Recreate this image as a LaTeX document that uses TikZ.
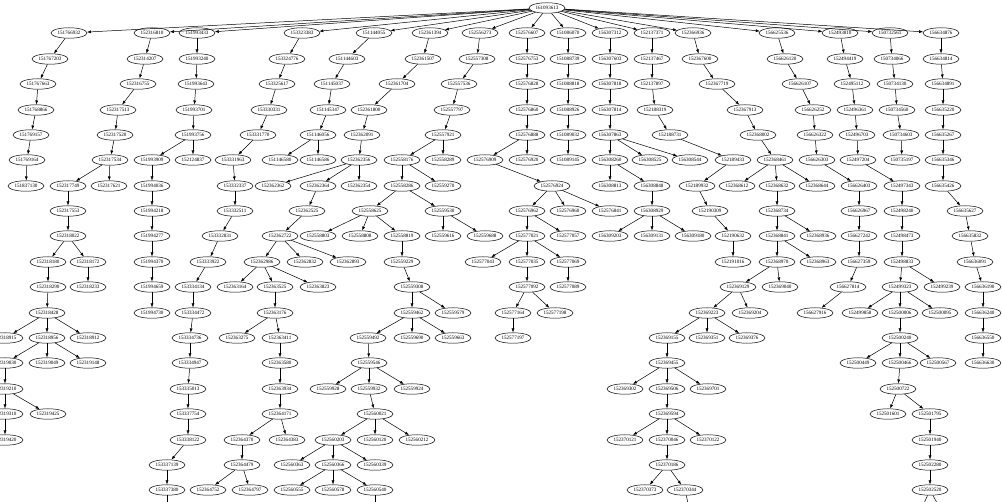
\documentclass[tikz,border=0pt]{standalone}
\usepackage{fontspec}
\setmainfont{Liberation Serif}
\usetikzlibrary{arrows.meta,shapes.geometric}

\begin{document}
\begin{tikzpicture}[x=1pt, y=-1pt, line width=0.5pt,
    >={Latex[length=4pt,width=3pt]},
    every node/.style={
    ellipse,
    draw,
    inner sep=0pt,
    minimum width=36pt,
    minimum height=10.5pt,
    font=\fontsize{5.1}{6}\selectfont
}]
    \useasboundingbox (0, 0) rectangle (1002, 502);
    \clip (0, 0) rectangle (1002, 502);

    \node (n_161093613) [shift={(547, 8)}] {161093613};

    % first row
    \node (n_151766932) [shift={(69, 33)}] {151766932};
    \node (n_152316810) [shift={(152, 33)}] {152316810};
    \node (n_151993433) [shift={(197, 33)}] {151993433};
    \node (n_153323383) [shift={(302, 33)}] {153323383};
    \node (n_151144055) [shift={(374, 33)}] {151144055};
    \node (n_152361394) [shift={(430, 33)}] {152361394};
    \node (n_152556273) [shift={(480, 33)}] {152556273};
    \node (n_152576607) [shift={(527, 33)}] {152576607};
    \node (n_151086070) [shift={(568, 33)}] {151086070};
    \node (n_156307312) [shift={(610, 33)}] {156307312};
    \node (n_152137371) [shift={(652, 33)}] {152137371};
    \node (n_152366936) [shift={(693, 33)}] {152366936};
    \node (n_156625536) [shift={(777, 33)}] {156625536};
    \node (n_152493810) [shift={(840, 33)}] {152493810};
    \node (n_150732561) [shift={(890, 33)}] {150732561};
    \node (n_156634876) [shift={(941, 33)}] {156634876};

    % 151766932
    \node (n_151767203) [shift={(50, 59)}] {151767203};
    \node (n_151767663) [shift={(38, 84)}] {151767663};
    \node (n_151768866) [shift={(36, 110)}] {151768866};
    \node (n_151769157) [shift={(31, 135)}] {151769157};
    \node (n_151769164) [shift={(27, 160)}] {151769164};
    \node (n_151837130) [shift={(26, 186)}] {151837130};

    % 152316810
    \node (n_152314207) [shift={(145, 59)}] {152314207};
    \node (n_152316755) [shift={(138, 84)}] {152316755};
    \node (n_152317513) [shift={(118, 110)}] {152317513};
    \node (n_152317520) [shift={(115, 135)}] {152317520};
    \node (n_152317534) [shift={(110, 160)}] {152317534};
    \node (n_152317749) [shift={(68, 186)}] {152317749};
    \node (n_152317621) [shift={(109, 186)}] {152317621};
    \node (n_152317553) [shift={(68, 211)}] {152317553};
    \node (n_152318022) [shift={(68, 236)}] {152318022};
    \node (n_152318180) [shift={(48, 262)}] {152318180};
    \node (n_152318172) [shift={(88, 262)}] {152318172};
    \node (n_152318290) [shift={(48, 287)}] {152318290};
    \node (n_152318233) [shift={(88, 287)}] {152318233};
    \node (n_152318428) [shift={(47, 313)}] {152318428};
    \node (n_152318915) [shift={(5, 338)}] {152318915};
    \node (n_152318956) [shift={(47, 338)}] {152318956};
    \node (n_152318912) [shift={(88, 338)}] {152318912};
    \node (n_152319030) [shift={(5, 363)}] {152319030};
    \node (n_152319049) [shift={(47, 363)}] {152319049};
    \node (n_152319148) [shift={(88, 363)}] {152319148};
    \node (n_152319210) [shift={(5, 389)}] {152319210};
    \node (n_152319310) [shift={(5, 414)}] {152319310};
    \node (n_152319425) [shift={(48, 414)}] {152319425};
    \node (n_152319420) [shift={(5, 440)}] {152319420};

    % 151993433
    \node (n_151993240) [shift={(197, 59)}] {151993240};
    \node (n_151993643) [shift={(196, 84)}] {151993643};
    \node (n_151993701) [shift={(194, 110)}] {151993701};
    \node (n_151993756) [shift={(193, 135)}] {151993756};
    \node (n_151993909) [shift={(152, 160)}] {151993909};
    \node (n_152124837) [shift={(193, 160)}] {152124837};
    \node (n_151994036) [shift={(152, 186)}] {151994036};
    \node (n_151994218) [shift={(152, 211)}] {151994218};
    \node (n_151994277) [shift={(152, 236)}] {151994277};
    \node (n_151994370) [shift={(152, 262)}] {151994370};
    \node (n_151994659) [shift={(152, 287)}] {151994659};
    \node (n_151994730) [shift={(152, 313)}] {151994730};

    % 153323383
    \node (n_153324776) [shift={(287, 59)}] {153324776};
    \node (n_153325617) [shift={(277, 84)}] {153325617};
    \node (n_153330331) [shift={(269, 110)}] {153330331};
    \node (n_153331770) [shift={(258, 135)}] {153331770};
    \node (n_153331963) [shift={(233, 160)}] {153331963};
    \node (n_153332337) [shift={(235, 186)}] {153332337};
    \node (n_153332511) [shift={(235, 211)}] {153332511};
    \node (n_153332831) [shift={(220, 236)}] {153332831};
    \node (n_153333922) [shift={(208, 262)}] {153333922};
    \node (n_153334134) [shift={(193, 287)}] {153334134};
    \node (n_153334472) [shift={(193, 313)}] {153334472};
    \node (n_153334736) [shift={(190, 338)}] {153334736};
    \node (n_153334947) [shift={(190, 363)}] {153334947};
    \node (n_153335013) [shift={(188, 389)}] {153335013};
    \node (n_153337754) [shift={(188, 414)}] {153337754};
    \node (n_153338122) [shift={(188, 440)}] {153338122};
    \node (n_153337139) [shift={(167, 465)}] {153337139};
    \node (n_153337380) [shift={(167, 490)}] {153337380};

    % 151144055
    \node (n_151144603) [shift={(347, 59)}] {151144603};
    \node (n_151145037) [shift={(332, 84)}] {151145037};
    \node (n_151145347) [shift={(328, 110)}] {151145347};
    \node (n_151146056) [shift={(318, 135)}] {151146056};
    \node (n_151146580) [shift={(280, 160)}] {151146580};
    \node (n_151146586) [shift={(318, 160)}] {151146586};

    % 152361394
    \node (n_152361507) [shift={(423, 59)}] {152361507};
    \node (n_152361704) [shift={(397, 84)}] {152361704};
    \node (n_152361800) [shift={(369, 110)}] {152361800};
    \node (n_152362091) [shift={(362, 135)}] {152362091};
    \node (n_152362356) [shift={(359, 160)}] {152362356};
    \node (n_152362362) [shift={(273, 186)}] {152362362};
    \node (n_152362364) [shift={(318, 186)}] {152362364};
    \node (n_152362354) [shift={(359, 186)}] {152362354};
    \node (n_152362525) [shift={(307, 211)}] {152362525};
    \node (n_152362722) [shift={(280, 236)}] {152362722};
    \node (n_152362986) [shift={(262, 262)}] {152362986};
    \node (n_152362832) [shift={(305, 262)}] {152362832};
    \node (n_152362893) [shift={(348, 262)}] {152362893};
    \node (n_152363164) [shift={(235, 287)}] {152363164};
    \node (n_152363525) [shift={(275, 287)}] {152363525};
    \node (n_152363823) [shift={(318, 287)}] {152363823};
    \node (n_152363176) [shift={(275, 313)}] {152363176};
    \node (n_152363275) [shift={(237, 338)}] {152363275};
    \node (n_152363411) [shift={(280, 338)}] {152363411};
    \node (n_152363580) [shift={(280, 363)}] {152363580};
    \node (n_152363934) [shift={(280, 389)}] {152363934};
    \node (n_152364171) [shift={(280, 414)}] {152364171};
    \node (n_152364370) [shift={(242, 440)}] {152364370};
    \node (n_152364383) [shift={(287, 440)}] {152364383};
    \node (n_152364479) [shift={(242, 465)}] {152364479};
    \node (n_152364752) [shift={(208, 490)}] {152364752};
    \node (n_152364797) [shift={(250, 490)}] {152364797};

    % 152556273
    \node (n_152557308) [shift={(477, 59)}] {152557308};
    \node (n_152557536) [shift={(459, 84)}] {152557536};
    \node (n_152557797) [shift={(452, 110)}] {152557797};
    \node (n_152557921) [shift={(443, 135)}] {152557921};
    \node (n_152558176) [shift={(402, 160)}] {152558176};
    \node (n_152558289) [shift={(443, 160)}] {152558289};
    \node (n_152558286) [shift={(402, 186)}] {152558286};
    \node (n_152559270) [shift={(443, 186)}] {152559270};
    \node (n_152558625) [shift={(370, 211)}] {152558625};
    \node (n_152559530) [shift={(443, 211)}] {152559530};
    \node (n_152558803) [shift={(318, 236)}] {152558803};
    \node (n_152558808) [shift={(360, 236)}] {152558808};
    \node (n_152558819) [shift={(402, 236)}] {152558819};
    \node (n_152559616) [shift={(443, 236)}] {152559616};
    \node (n_152559688) [shift={(485, 236)}] {152559688};
    \node (n_152559229) [shift={(402, 262)}] {152559229};
    \node (n_152559308) [shift={(412, 287)}] {152559308};
    \node (n_152559462) [shift={(412, 313)}] {152559462};
    \node (n_152559579) [shift={(453, 313)}] {152559579};
    \node (n_152559492) [shift={(368, 338)}] {152559492};
    \node (n_152559690) [shift={(412, 338)}] {152559690};
    \node (n_152559663) [shift={(453, 338)}] {152559663};
    \node (n_152559546) [shift={(369, 363)}] {152559546};
    \node (n_152559928) [shift={(328, 389)}] {152559928};
    \node (n_152559932) [shift={(369, 389)}] {152559932};
    \node (n_152559924) [shift={(412, 389)}] {152559924};
    \node (n_152560021) [shift={(375, 414)}] {152560021};
    \node (n_152560203) [shift={(333, 440)}] {152560203};
    \node (n_152560120) [shift={(375, 440)}] {152560120};
    \node (n_152560212) [shift={(417, 440)}] {152560212};
    \node (n_152560363) [shift={(292, 465)}] {152560363};
    \node (n_152560366) [shift={(333, 465)}] {152560366};
    \node (n_152560339) [shift={(375, 465)}] {152560339};
    \node (n_152560555) [shift={(292, 490)}] {152560555};
    \node (n_152560578) [shift={(333, 490)}] {152560578};
    \node (n_152560540) [shift={(375, 490)}] {152560540};

    % 152576607
    \node (n_152576753) [shift={(527, 59)}] {152576753};
    \node (n_152576828) [shift={(527, 84)}] {152576828};
    \node (n_152576860) [shift={(527, 110)}] {152576860};
    \node (n_152576888) [shift={(527, 135)}] {152576888};
    \node (n_152576909) [shift={(485, 160)}] {152576909};
    \node (n_152576920) [shift={(527, 160)}] {152576920};
    \node (n_152576924) [shift={(552, 186)}] {152576924};
    \node (n_152576962) [shift={(527, 211)}] {152576962};
    \node (n_152576960) [shift={(568, 211)}] {152576960};
    \node (n_152576841) [shift={(610, 211)}] {152576841};
    \node (n_152577021) [shift={(527, 236)}] {152577021};
    \node (n_152577057) [shift={(568, 236)}] {152577057};
    \node (n_152577043) [shift={(483, 262)}] {152577043};
    \node (n_152577035) [shift={(527, 262)}] {152577035};
    \node (n_152577069) [shift={(568, 262)}] {152577069};
    \node (n_152577092) [shift={(527, 287)}] {152577092};
    \node (n_152577089) [shift={(568, 287)}] {152577089};
    \node (n_152577164) [shift={(513, 313)}] {152577164};
    \node (n_152577198) [shift={(555, 313)}] {152577198};
    \node (n_152577197) [shift={(513, 338)}] {152577197};

    % 151086070
    \node (n_151088739) [shift={(568, 59)}] {151088739};
    \node (n_151088818) [shift={(568, 84)}] {151088818};
    \node (n_151088926) [shift={(568, 110)}] {151088926};
    \node (n_151089032) [shift={(568, 135)}] {151089032};
    \node (n_151089145) [shift={(568, 160)}] {151089145};

    % 156307312
    \node (n_156307603) [shift={(610, 59)}] {156307603};
    \node (n_156307818) [shift={(610, 84)}] {156307818};
    \node (n_156307814) [shift={(610, 110)}] {156307814};
    \node (n_156307863) [shift={(610, 135)}] {156307863};
    \node (n_156308260) [shift={(610, 160)}] {156308260};
    \node (n_156308525) [shift={(650, 160)}] {156308525};
    \node (n_156308544) [shift={(690, 160)}] {156308544};
    \node (n_156308813) [shift={(610, 186)}] {156308813};
    \node (n_156308848) [shift={(652, 186)}] {156308848};
    \node (n_156308929) [shift={(652, 211)}] {156308929};
    \node (n_156309203) [shift={(610, 236)}] {156309203};
    \node (n_156309131) [shift={(652, 236)}] {156309131};
    \node (n_156309180) [shift={(693, 236)}] {156309180};

    % 152137371
    \node (n_152137467) [shift={(652, 59)}] {152137467};
    \node (n_152137897) [shift={(652, 84)}] {152137897};
    \node (n_152188319) [shift={(655, 110)}] {152188319};
    \node (n_152188731) [shift={(670, 135)}] {152188731};
    \node (n_152189433) [shift={(733, 160)}] {152189433};
    \node (n_152189932) [shift={(697, 186)}] {152189932};
    \node (n_152190309) [shift={(710, 211)}] {152190309};
    \node (n_152190632) [shift={(733, 236)}] {152190632};
    \node (n_152191016) [shift={(733, 262)}] {152191016};

    % 152366936
    \node (n_152367600) [shift={(700, 59)}] {152367600};
    \node (n_152367719) [shift={(717, 84)}] {152367719};
    \node (n_152367913) [shift={(745, 110)}] {152367913};
    \node (n_152368002) [shift={(758, 135)}] {152368002};
    \node (n_152368461) [shift={(775, 160)}] {152368461};
    \node (n_152368612) [shift={(737, 186)}] {152368612};
    \node (n_152368632) [shift={(777, 186)}] {152368632};
    \node (n_152368644) [shift={(817, 186)}] {152368644};
    \node (n_152368734) [shift={(777, 211)}] {152368734};
    \node (n_152368841) [shift={(777, 236)}] {152368841};
    \node (n_152368936) [shift={(818, 236)}] {152368936};
    \node (n_152368970) [shift={(777, 262)}] {152368970};
    \node (n_152368963) [shift={(818, 262)}] {152368963};
    \node (n_152369129) [shift={(738, 287)}] {152369129};
    \node (n_152369040) [shift={(780, 287)}] {152369040};
    \node (n_152369223) [shift={(707, 313)}] {152369223};
    \node (n_152369204) [shift={(750, 313)}] {152369204};
    \node (n_152369155) [shift={(667, 338)}] {152369155};
    \node (n_152369351) [shift={(707, 338)}] {152369351};
    \node (n_152369376) [shift={(747, 338)}] {152369376};
    \node (n_152369455) [shift={(667, 363)}] {152369455};
    \node (n_152369302) [shift={(625, 389)}] {152369302};
    \node (n_152369506) [shift={(667, 389)}] {152369506};
    \node (n_152369701) [shift={(708, 389)}] {152369701};
    \node (n_152369594) [shift={(667, 414)}] {152369594};
    \node (n_152370121) [shift={(625, 440)}] {152370121};
    \node (n_152370046) [shift={(667, 440)}] {152370046};
    \node (n_152370122) [shift={(708, 440)}] {152370122};
    \node (n_152370186) [shift={(667, 465)}] {152370186};
    \node (n_152370373) [shift={(645, 490)}] {152370373};
    \node (n_152370344) [shift={(685, 490)}] {152370344};

    % 156625536
    \node (n_156626120) [shift={(785, 59)}] {156626120};
    \node (n_156626107) [shift={(800, 84)}] {156626107};
    \node (n_156626252) [shift={(813, 110)}] {156626252};
    \node (n_156626322) [shift={(815, 135)}] {156626322};
    \node (n_156626303) [shift={(817, 160)}] {156626303};
    \node (n_156626403) [shift={(859, 186)}] {156626403};
    \node (n_156626967) [shift={(859, 211)}] {156626967};
    \node (n_156627242) [shift={(859, 236)}] {156627242};
    \node (n_156627359) [shift={(859, 262)}] {156627359};
    \node (n_156627814) [shift={(848, 287)}] {156627814};
    \node (n_156627916) [shift={(815, 313)}] {156627916};

    % 152493810
    \node (n_152494419) [shift={(845, 59)}] {152494419};
    \node (n_152495112) [shift={(852, 84)}] {152495112};
    \node (n_152496361) [shift={(855, 110)}] {152496361};
    \node (n_152496703) [shift={(857, 135)}] {152496703};
    \node (n_152497204) [shift={(858, 160)}] {152497204};
    \node (n_152497343) [shift={(902, 186)}] {152497343};
    \node (n_152498240) [shift={(902, 211)}] {152498240};
    \node (n_152498473) [shift={(902, 236)}] {152498473};
    \node (n_152498833) [shift={(902, 262)}] {152498833};
    \node (n_152499323) [shift={(900, 287)}] {152499323};
    \node (n_152499239) [shift={(942, 287)}] {152499239};
    \node (n_152499858) [shift={(860, 313)}] {152499858};
    \node (n_152500006) [shift={(900, 313)}] {152500006};
    \node (n_152500095) [shift={(940, 313)}] {152500095};
    \node (n_152500240) [shift={(900, 338)}] {152500240};
    \node (n_152500449) [shift={(858, 363)}] {152500449};
    \node (n_152500466) [shift={(900, 363)}] {152500466};
    \node (n_152500567) [shift={(938, 363)}] {152500567};
    \node (n_152500722) [shift={(898, 389)}] {152500722};
    \node (n_152501601) [shift={(888, 414)}] {152501601};
    \node (n_152501795) [shift={(930, 414)}] {152501795};
    \node (n_152501940) [shift={(930, 440)}] {152501940};
    \node (n_152502280) [shift={(930, 465)}] {152502280};
    \node (n_152502520) [shift={(930, 490)}] {152502520};

    % 150732561
    \node (n_150734066) [shift={(892, 59)}] {150734066};
    \node (n_150734130) [shift={(895, 84)}] {150734130};
    \node (n_150734560) [shift={(897, 110)}] {150734560};
    \node (n_150734603) [shift={(901, 135)}] {150734603};
    \node (n_150735197) [shift={(902, 160)}] {150735197};

    % 156634876
    \node (n_156634814) [shift={(941, 59)}] {156634814};
    \node (n_156634891) [shift={(943, 84)}] {156634891};
    \node (n_156635220) [shift={(943, 110)}] {156635220};
    \node (n_156635267) [shift={(943, 135)}] {156635267};
    \node (n_156635346) [shift={(943, 160)}] {156635346};
    \node (n_156635426) [shift={(943, 186)}] {156635426};
    \node (n_156635627) [shift={(965, 211)}] {156635627};
    \node (n_156635832) [shift={(970, 236)}] {156635832};
    \node (n_156636091) [shift={(975, 262)}] {156636091};
    \node (n_156636190) [shift={(983, 287)}] {156636190};
    \node (n_156636240) [shift={(983, 313)}] {156636240};
    \node (n_156636550) [shift={(983, 338)}] {156636550};
    \node (n_156636630) [shift={(983, 363)}] {156636630};

    % children below the frame
    \coordinate (c_153337380) at (167, 512);
    \coordinate (c_152560540) at (375, 512);
    \coordinate (c_152370344) at (690, 512);
    \coordinate (c_152502520_l) at (920, 512);
    \coordinate (c_152502520_r) at (942, 512);


    \draw[->] (n_161093613) to (n_151766932);
    \draw[->] (n_161093613) to (n_152316810);
    \draw[->] (n_161093613) to (n_151993433);
    \draw[->] (n_161093613) to (n_153323383);
    \draw[->] (n_161093613) to (n_151144055);
    \draw[->] (n_161093613) to (n_152361394);
    \draw[->] (n_161093613) to (n_152556273);
    \draw[->] (n_161093613) to (n_152576607);
    \draw[->] (n_161093613) to (n_151086070);
    \draw[->] (n_161093613) to (n_156307312);
    \draw[->] (n_161093613) to (n_152137371);
    \draw[->] (n_161093613) to (n_152366936);
    \draw[->] (n_161093613) to (n_156625536);
    \draw[->] (n_161093613) to (n_152493810);
    \draw[->] (n_161093613) to (n_150732561);
    \draw[->] (n_161093613) to (n_156634876);

    \draw[->] (n_151766932) to (n_151767203);
    \draw[->] (n_151767203) to (n_151767663);
    \draw[->] (n_151767663) to (n_151768866);
    \draw[->] (n_151768866) to (n_151769157);
    \draw[->] (n_151769157) to (n_151769164);
    \draw[->] (n_151769164) to (n_151837130);

    \draw[->] (n_152316810) to (n_152314207);
    \draw[->] (n_152314207) to (n_152316755);
    \draw[->] (n_152316755) to (n_152317513);
    \draw[->] (n_152317513) to (n_152317520);
    \draw[->] (n_152317520) to (n_152317534);
    \draw[->] (n_152317534) to (n_152317749);
    \draw[->] (n_152317534) to (n_152317621);
    \draw[->] (n_152317749) to (n_152317553);
    \draw[->] (n_152317553) to (n_152318022);
    \draw[->] (n_152318022) to (n_152318180);
    \draw[->] (n_152318022) to (n_152318172);
    \draw[->] (n_152318180) to (n_152318290);
    \draw[->] (n_152318172) to (n_152318233);
    \draw[->] (n_152318290) to (n_152318428);
    \draw[->] (n_152318428) to (n_152318915);
    \draw[->] (n_152318428) to (n_152318956);
    \draw[->] (n_152318428) to (n_152318912);
    \draw[->] (n_152318956) to (n_152319030);
    \draw[->] (n_152318956) to (n_152319049);
    \draw[->] (n_152318956) to (n_152319148);
    \draw[->] (n_152319030) to (n_152319210);
    \draw[->] (n_152319210) to (n_152319310);
    \draw[->] (n_152319210) to (n_152319425);
    \draw[->] (n_152319310) to (n_152319420);

    \draw[->] (n_151993433) to (n_151993240);
    \draw[->] (n_151993240) to (n_151993643);
    \draw[->] (n_151993643) to (n_151993701);
    \draw[->] (n_151993701) to (n_151993756);
    \draw[->] (n_151993756) to (n_151993909);
    \draw[->] (n_151993756) to (n_152124837);
    \draw[->] (n_151993909) to (n_151994036);
    \draw[->] (n_151994036) to (n_151994218);
    \draw[->] (n_151994218) to (n_151994277);
    \draw[->] (n_151994277) to (n_151994370);
    \draw[->] (n_151994370) to (n_151994659);
    \draw[->] (n_151994659) to (n_151994730);

    \draw[->] (n_153323383) to (n_153324776);
    \draw[->] (n_153324776) to (n_153325617);
    \draw[->] (n_153325617) to (n_153330331);
    \draw[->] (n_153330331) to (n_153331770);
    \draw[->] (n_153331770) to (n_153331963);
    \draw[->] (n_153331963) to (n_153332337);
    \draw[->] (n_153332337) to (n_153332511);
    \draw[->] (n_153332511) to (n_153332831);
    \draw[->] (n_153332831) to (n_153333922);
    \draw[->] (n_153333922) to (n_153334134);
    \draw[->] (n_153334134) to (n_153334472);
    \draw[->] (n_153334472) to (n_153334736);
    \draw[->] (n_153334736) to (n_153334947);
    \draw[->] (n_153334947) to (n_153335013);
    \draw[->] (n_153335013) to (n_153337754);
    \draw[->] (n_153337754) to (n_153338122);
    \draw[->] (n_153338122) to (n_153337139);
    \draw[->] (n_153337139) to (n_153337380);
    \draw[->] (n_153337380) to (c_153337380);

    \draw[->] (n_151144055) to (n_151144603);
    \draw[->] (n_151144603) to (n_151145037);
    \draw[->] (n_151145037) to (n_151145347);
    \draw[->] (n_151145347) to (n_151146056);
    \draw[->] (n_151146056) to (n_151146580);
    \draw[->] (n_151146056) to (n_151146586);

    \draw[->] (n_152361394) to (n_152361507);
    \draw[->] (n_152361507) to (n_152361704);
    \draw[->] (n_152361704) to (n_152361800);
    \draw[->] (n_152361800) to (n_152362091);
    \draw[->] (n_152362091) to (n_152362356);
    \draw[->] (n_152362356) to (n_152362362);
    \draw[->] (n_152362356) to (n_152362364);
    \draw[->] (n_152362356) to (n_152362354);
    \draw[->] (n_152362364) to (n_152362525);
    \draw[->] (n_152362525) to (n_152362722);
    \draw[->] (n_152362722) to (n_152362986);
    \draw[->] (n_152362722) to (n_152362832);
    \draw[->] (n_152362722) to (n_152362893);
    \draw[->] (n_152362986) to (n_152363164);
    \draw[->] (n_152362986) to (n_152363525);
    \draw[->] (n_152362986) to (n_152363823);
    \draw[->] (n_152363525) to (n_152363176);
    \draw[->] (n_152363176) to (n_152363275);
    \draw[->] (n_152363176) to (n_152363411);
    \draw[->] (n_152363411) to (n_152363580);
    \draw[->] (n_152363580) to (n_152363934);
    \draw[->] (n_152363934) to (n_152364171);
    \draw[->] (n_152364171) to (n_152364370);
    \draw[->] (n_152364171) to (n_152364383);
    \draw[->] (n_152364370) to (n_152364479);
    \draw[->] (n_152364479) to (n_152364752);
    \draw[->] (n_152364479) to (n_152364797);

    \draw[->] (n_152556273) to (n_152557308);
    \draw[->] (n_152557308) to (n_152557536);
    \draw[->] (n_152557536) to (n_152557797);
    \draw[->] (n_152557797) to (n_152557921);
    \draw[->] (n_152557921) to (n_152558176);
    \draw[->] (n_152557921) to (n_152558289);
    \draw[->] (n_152558176) to (n_152558286);
    \draw[->] (n_152558176) to (n_152559270);
    \draw[->] (n_152558286) to (n_152558625);
    \draw[->] (n_152558286) to (n_152559530);
    \draw[->] (n_152558625) to (n_152558803);
    \draw[->] (n_152558625) to (n_152558808);
    \draw[->] (n_152558625) to (n_152558819);
    \draw[->] (n_152559530) to (n_152559616);
    \draw[->] (n_152559530) to (n_152559688);
    \draw[->] (n_152558819) to (n_152559229);
    \draw[->] (n_152559229) to (n_152559308);
    \draw[->] (n_152559308) to (n_152559462);
    \draw[->] (n_152559308) to (n_152559579);
    \draw[->] (n_152559462) to (n_152559492);
    \draw[->] (n_152559462) to (n_152559690);
    \draw[->] (n_152559462) to (n_152559663);
    \draw[->] (n_152559492) to (n_152559546);
    \draw[->] (n_152559546) to (n_152559928);
    \draw[->] (n_152559546) to (n_152559932);
    \draw[->] (n_152559546) to (n_152559924);
    \draw[->] (n_152559932) to (n_152560021);
    \draw[->] (n_152560021) to (n_152560203);
    \draw[->] (n_152560021) to (n_152560120);
    \draw[->] (n_152560021) to (n_152560212);
    \draw[->] (n_152560203) to (n_152560363);
    \draw[->] (n_152560203) to (n_152560366);
    \draw[->] (n_152560203) to (n_152560339);
    \draw[->] (n_152560366) to (n_152560555);
    \draw[->] (n_152560366) to (n_152560578);
    \draw[->] (n_152560366) to (n_152560540);
    \draw[->] (n_152560540) to (c_152560540);

    \draw[->] (n_152576607) to (n_152576753);
    \draw[->] (n_152576753) to (n_152576828);
    \draw[->] (n_152576828) to (n_152576860);
    \draw[->] (n_152576860) to (n_152576888);
    \draw[->] (n_152576888) to (n_152576909);
    \draw[->] (n_152576888) to (n_152576920);
    \draw[->] (n_152576909) to (n_152576924);
    \draw[->] (n_152576924) to (n_152576962);
    \draw[->] (n_152576924) to (n_152576960);
    \draw[->] (n_152576924) to (n_152576841);
    \draw[->] (n_152576962) to (n_152577021);
    \draw[->] (n_152576962) to (n_152577057);
    \draw[->] (n_152577021) to (n_152577043);
    \draw[->] (n_152577021) to (n_152577035);
    \draw[->] (n_152577021) to (n_152577069);
    \draw[->] (n_152577035) to (n_152577092);
    \draw[->] (n_152577069) to (n_152577089);
    \draw[->] (n_152577092) to (n_152577164);
    \draw[->] (n_152577092) to (n_152577198);
    \draw[->] (n_152577164) to (n_152577197);

    \draw[->] (n_151086070) to (n_151088739);
    \draw[->] (n_151088739) to (n_151088818);
    \draw[->] (n_151088818) to (n_151088926);
    \draw[->] (n_151088926) to (n_151089032);
    \draw[->] (n_151089032) to (n_151089145);

    \draw[->] (n_156307312) to (n_156307603);
    \draw[->] (n_156307603) to (n_156307818);
    \draw[->] (n_156307818) to (n_156307814);
    \draw[->] (n_156307814) to (n_156307863);
    \draw[->] (n_156307863) to (n_156308260);
    \draw[->] (n_156307863) to (n_156308525);
    \draw[->] (n_156307863) to (n_156308544);
    \draw[->] (n_156308260) to (n_156308813);
    \draw[->] (n_156308260) to (n_156308848);
    \draw[->] (n_156308848) to (n_156308929);
    \draw[->] (n_156308929) to (n_156309203);
    \draw[->] (n_156308929) to (n_156309131);
    \draw[->] (n_156308929) to (n_156309180);

    \draw[->] (n_152137371) to (n_152137467);
    \draw[->] (n_152137467) to (n_152137897);
    \draw[->] (n_152137897) to (n_152188319);
    \draw[->] (n_152188319) to (n_152188731);
    \draw[->] (n_152188731) to (n_152189433);
    \draw[->] (n_152189433) to (n_152189932);
    \draw[->] (n_152189932) to (n_152190309);
    \draw[->] (n_152190309) to (n_152190632);
    \draw[->] (n_152190632) to (n_152191016);

    \draw[->] (n_152366936) to (n_152367600);
    \draw[->] (n_152367600) to (n_152367719);
    \draw[->] (n_152367719) to (n_152367913);
    \draw[->] (n_152367913) to (n_152368002);
    \draw[->] (n_152368002) to (n_152368461);
    \draw[->] (n_152368461) to (n_152368612);
    \draw[->] (n_152368461) to (n_152368632);
    \draw[->] (n_152368461) to (n_152368644);
    \draw[->] (n_152368632) to (n_152368734);
    \draw[->] (n_152368734) to (n_152368841);
    \draw[->] (n_152368734) to (n_152368936);
    \draw[->] (n_152368841) to (n_152368970);
    \draw[->] (n_152368841) to (n_152368963);
    \draw[->] (n_152368970) to (n_152369129);
    \draw[->] (n_152368970) to (n_152369040);
    \draw[->] (n_152369129) to (n_152369223);
    \draw[->] (n_152369129) to (n_152369204);
    \draw[->] (n_152369223) to (n_152369155);
    \draw[->] (n_152369223) to (n_152369351);
    \draw[->] (n_152369223) to (n_152369376);
    \draw[->] (n_152369155) to (n_152369455);
    \draw[->] (n_152369455) to (n_152369302);
    \draw[->] (n_152369455) to (n_152369506);
    \draw[->] (n_152369455) to (n_152369701);
    \draw[->] (n_152369506) to (n_152369594);
    \draw[->] (n_152369594) to (n_152370121);
    \draw[->] (n_152369594) to (n_152370046);
    \draw[->] (n_152369594) to (n_152370122);
    \draw[->] (n_152370046) to (n_152370186);
    \draw[->] (n_152370186) to (n_152370373);
    \draw[->] (n_152370186) to (n_152370344);
    \draw[->] (n_152370344) to (c_152370344);

    \draw[->] (n_156625536) to (n_156626120);
    \draw[->] (n_156626120) to (n_156626107);
    \draw[->] (n_156626107) to (n_156626252);
    \draw[->] (n_156626252) to (n_156626322);
    \draw[->] (n_156626322) to (n_156626303);
    \draw[->] (n_156626303) to (n_156626403);
    \draw[->] (n_156626403) to (n_156626967);
    \draw[->] (n_156626967) to (n_156627242);
    \draw[->] (n_156627242) to (n_156627359);
    \draw[->] (n_156627359) to (n_156627814);
    \draw[->] (n_156627814) to (n_156627916);

    \draw[->] (n_152493810) to (n_152494419);
    \draw[->] (n_152494419) to (n_152495112);
    \draw[->] (n_152495112) to (n_152496361);
    \draw[->] (n_152496361) to (n_152496703);
    \draw[->] (n_152496703) to (n_152497204);
    \draw[->] (n_152497204) to (n_152497343);
    \draw[->] (n_152497343) to (n_152498240);
    \draw[->] (n_152498240) to (n_152498473);
    \draw[->] (n_152498473) to (n_152498833);
    \draw[->] (n_152498833) to (n_152499323);
    \draw[->] (n_152498833) to (n_152499239);
    \draw[->] (n_152499323) to (n_152499858);
    \draw[->] (n_152499323) to (n_152500006);
    \draw[->] (n_152499323) to (n_152500095);
    \draw[->] (n_152500006) to (n_152500240);
    \draw[->] (n_152500240) to (n_152500449);
    \draw[->] (n_152500240) to (n_152500466);
    \draw[->] (n_152500240) to (n_152500567);
    \draw[->] (n_152500466) to (n_152500722);
    \draw[->] (n_152500722) to (n_152501601);
    \draw[->] (n_152500722) to (n_152501795);
    \draw[->] (n_152501795) to (n_152501940);
    \draw[->] (n_152501940) to (n_152502280);
    \draw[->] (n_152502280) to (n_152502520);
    \draw[->] (n_152502520) to (c_152502520_l);
    \draw[->] (n_152502520) to (c_152502520_r);

    \draw[->] (n_150732561) to (n_150734066);
    \draw[->] (n_150734066) to (n_150734130);
    \draw[->] (n_150734130) to (n_150734560);
    \draw[->] (n_150734560) to (n_150734603);
    \draw[->] (n_150734603) to (n_150735197);

    \draw[->] (n_156634876) to (n_156634814);
    \draw[->] (n_156634814) to (n_156634891);
    \draw[->] (n_156634891) to (n_156635220);
    \draw[->] (n_156635220) to (n_156635267);
    \draw[->] (n_156635267) to (n_156635346);
    \draw[->] (n_156635346) to (n_156635426);
    \draw[->] (n_156635426) to (n_156635627);
    \draw[->] (n_156635627) to (n_156635832);
    \draw[->] (n_156635832) to (n_156636091);
    \draw[->] (n_156636091) to (n_156636190);
    \draw[->] (n_156636190) to (n_156636240);
    \draw[->] (n_156636240) to (n_156636550);
    \draw[->] (n_156636550) to (n_156636630);
\end{tikzpicture}
\end{document}
